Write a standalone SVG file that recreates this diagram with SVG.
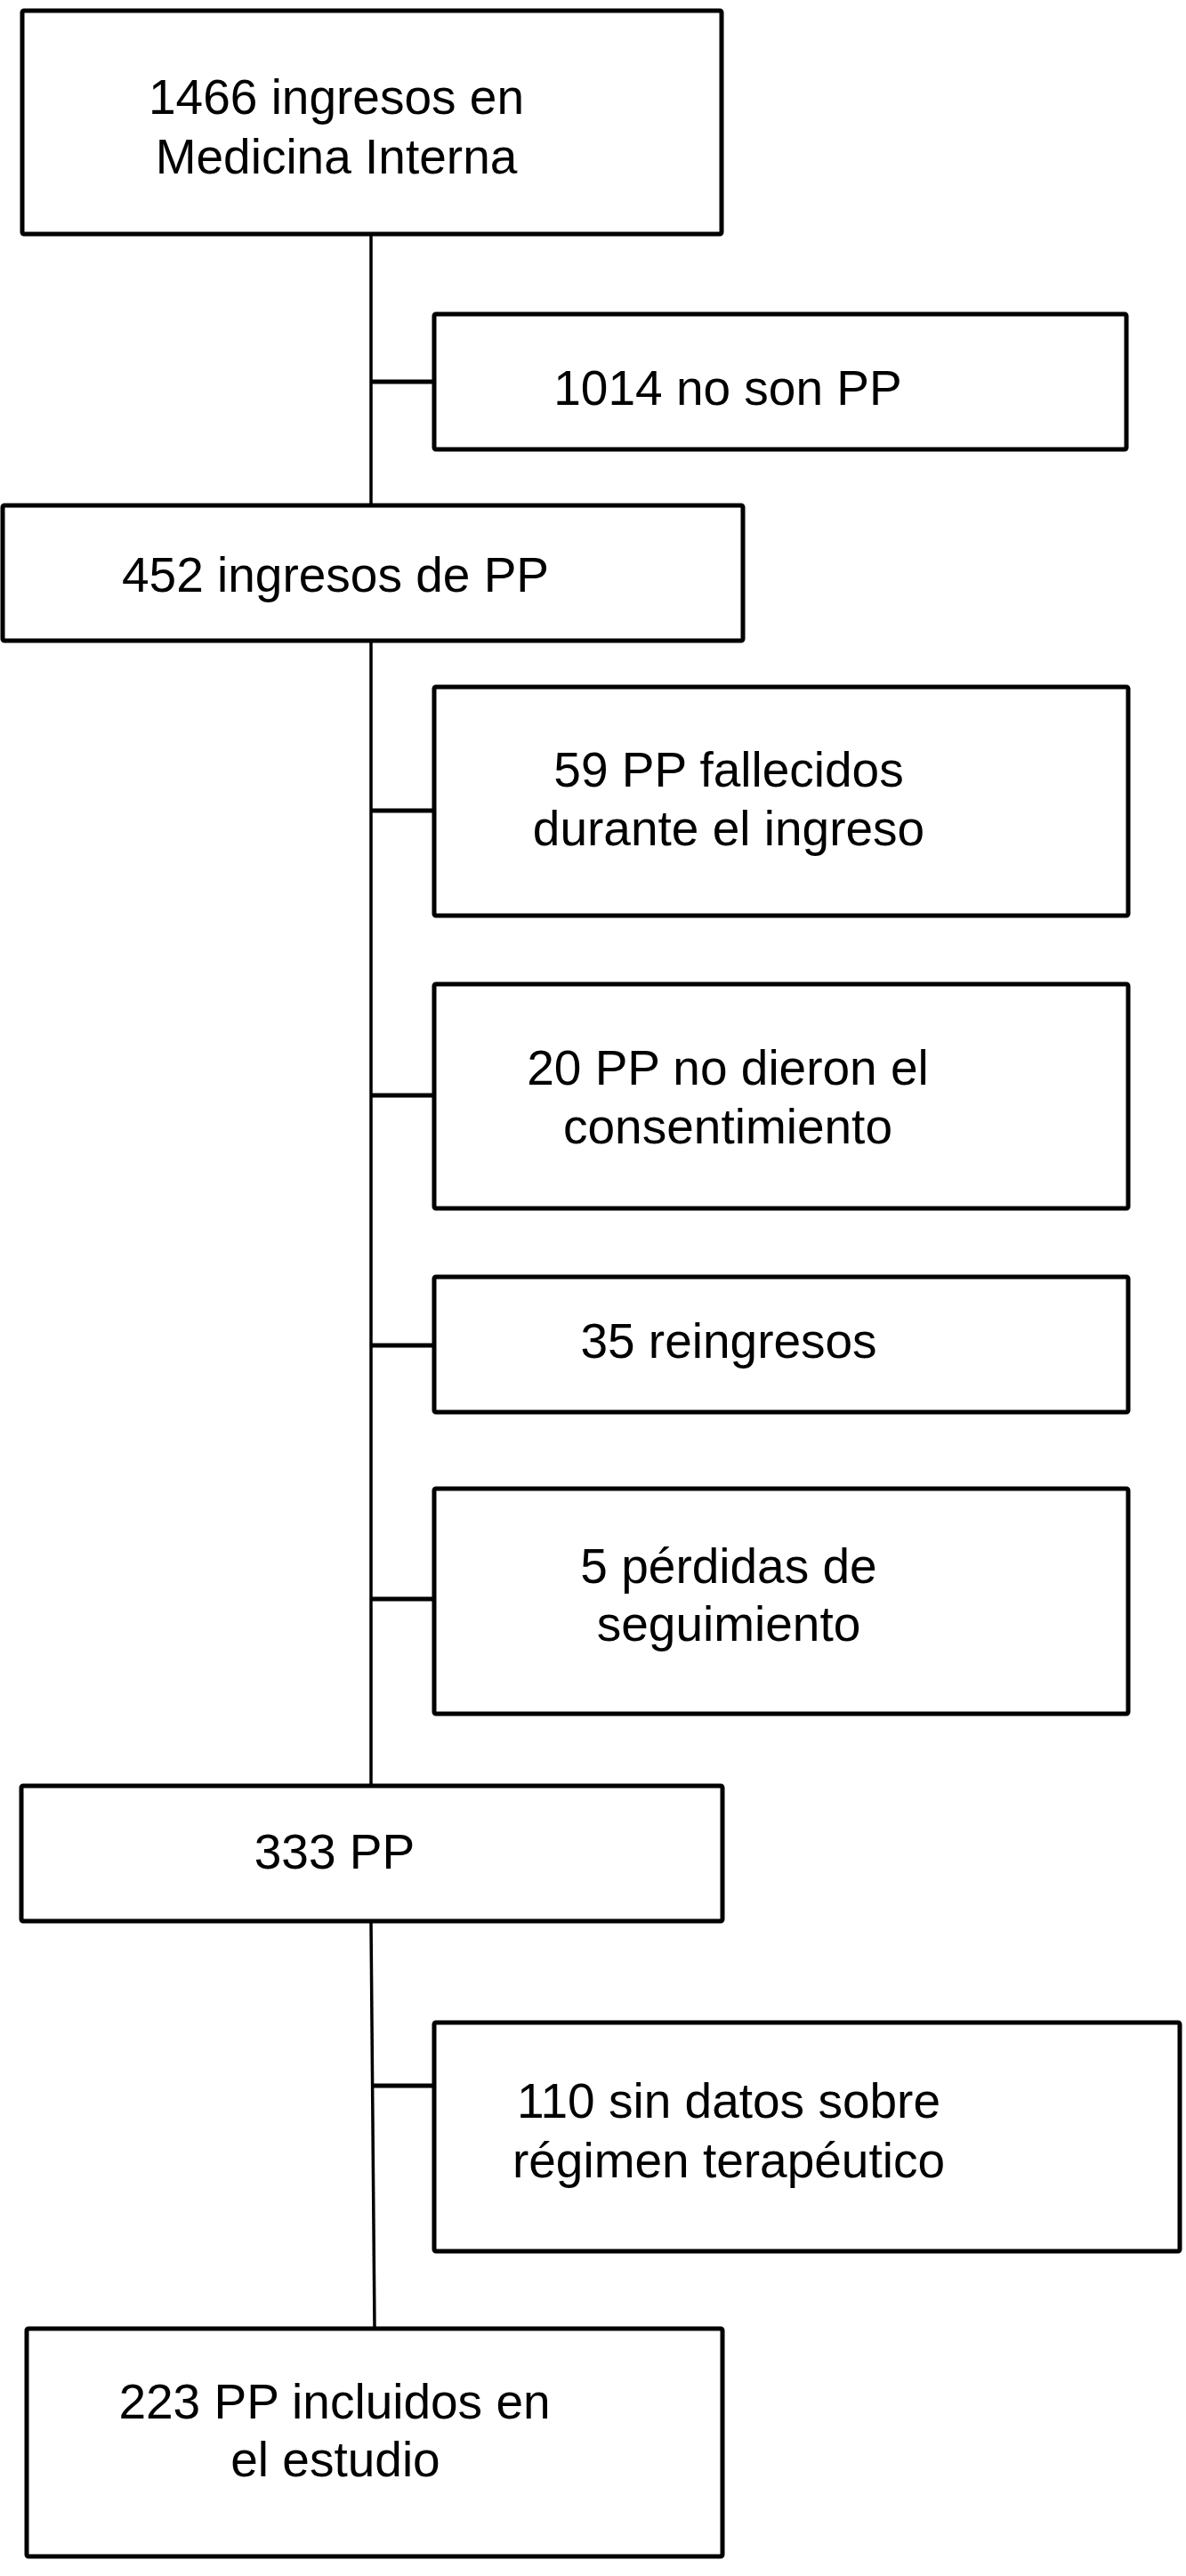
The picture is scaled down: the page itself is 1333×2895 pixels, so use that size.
<svg xmlns="http://www.w3.org/2000/svg" width="1333" height="2895" viewBox="0 0 1333 2895">
<style>
  .box { fill: #ffffff; stroke: #000000; stroke-width: 5; }
  .lbl { font-family: "Liberation Sans", Arial, sans-serif; font-size: 55px; fill: #000000; text-anchor: middle; }
  .trunk { stroke: #000000; stroke-width: 3.5; fill: none; }
  .branch { stroke: #000000; stroke-width: 5; fill: none; }
</style>
<rect x="0" y="0" width="1333" height="2895" fill="#ffffff"/>
<g id="connectors">
  <line class="trunk" x1="417" y1="263" x2="417" y2="568"/>
  <line class="trunk" x1="417" y1="720" x2="417" y2="2007"/>
  <line class="trunk" x1="417" y1="2159" x2="421" y2="2617"/>
  <line class="branch" x1="417" y1="429" x2="488" y2="429"/>
  <line class="branch" x1="417" y1="911" x2="488" y2="911"/>
  <line class="branch" x1="417" y1="1231" x2="488" y2="1231"/>
  <line class="branch" x1="417" y1="1512" x2="488" y2="1512"/>
  <line class="branch" x1="417" y1="1797" x2="488" y2="1797"/>
  <line class="branch" x1="419" y1="2344" x2="488" y2="2344"/>
</g>
<g id="n1">
  <rect class="box" x="25" y="12" width="786" height="251" rx="2"/>
  <text class="lbl" x="378" y="128">1466 ingresos en</text>
  <text class="lbl" x="378" y="195">Medicina Interna</text>
</g>
<g id="n2">
  <rect class="box" x="488" y="353" width="778" height="152" rx="2"/>
  <text class="lbl" x="818" y="455">1014 no son PP</text>
</g>
<g id="n3">
  <rect class="box" x="3" y="568" width="832" height="152" rx="2"/>
  <text class="lbl" x="377" y="665">452 ingresos de PP</text>
</g>
<g id="n4">
  <rect class="box" x="488" y="772" width="780" height="257" rx="2"/>
  <text class="lbl" x="819" y="884">59 PP fallecidos</text>
  <text class="lbl" x="819" y="950">durante el ingreso</text>
</g>
<g id="n5">
  <rect class="box" x="488" y="1106" width="780" height="252" rx="2"/>
  <text class="lbl" x="818" y="1219">20 PP no dieron el</text>
  <text class="lbl" x="818" y="1285">consentimiento</text>
</g>
<g id="n6">
  <rect class="box" x="488" y="1435" width="780" height="152" rx="2"/>
  <text class="lbl" x="819" y="1526">35 reingresos</text>
</g>
<g id="n7">
  <rect class="box" x="488" y="1673" width="780" height="253" rx="2"/>
  <text class="lbl" x="819" y="1779">5 pérdidas de</text>
  <text class="lbl" x="819" y="1844">seguimiento</text>
</g>
<g id="n8">
  <rect class="box" x="24" y="2007" width="788" height="152" rx="2"/>
  <text class="lbl" x="376" y="2100">333 PP</text>
</g>
<g id="n9">
  <rect class="box" x="488" y="2273" width="838" height="257" rx="2"/>
  <text class="lbl" x="819" y="2380">110 sin datos sobre</text>
  <text class="lbl" x="819" y="2447">régimen terapéutico</text>
</g>
<g id="n10">
  <rect class="box" x="30" y="2617" width="782" height="256" rx="2"/>
  <text class="lbl" x="376" y="2718">223 PP incluidos en</text>
  <text class="lbl" x="377" y="2783">el estudio</text>
</g>
</svg>
